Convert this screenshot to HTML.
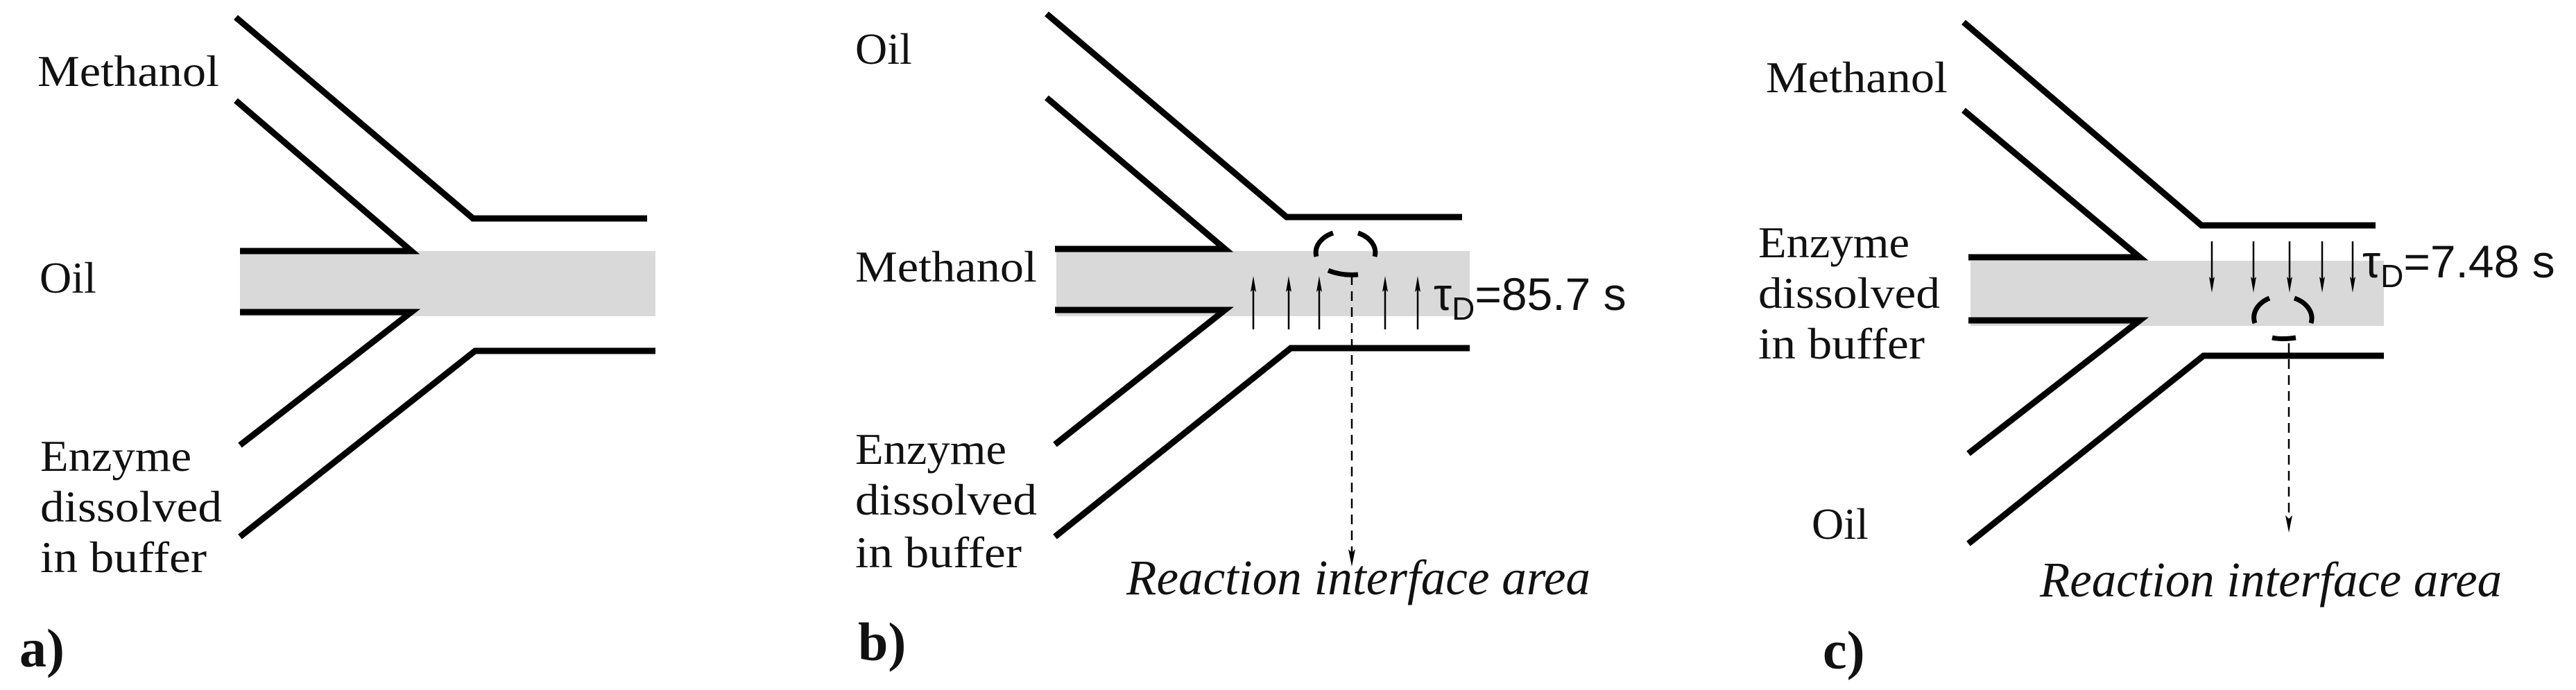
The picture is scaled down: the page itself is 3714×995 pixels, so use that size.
<!DOCTYPE html>
<html><head><meta charset="utf-8"><style>html,body{margin:0;padding:0;background:#fff}svg{display:block}</style></head>
<body>
<svg width="3714" height="995" viewBox="0 0 3714 995" xmlns="http://www.w3.org/2000/svg">
<g fill="#d9d9d9">
<rect x="346" y="362" width="599" height="94"/>
<rect x="1523" y="362" width="596" height="94"/>
<rect x="2841" y="376" width="596" height="94"/>
</g>
<g fill="none" stroke="#000" stroke-width="9" stroke-linejoin="miter">
<polyline points="340,25 682,315 933,315"/>
<polyline points="340,145 593,362 346,362"/>
<polyline points="346,450 593,450 346,642"/>
<polyline points="346,774 685,506 945,506"/>
<polyline points="1509,20 1855,313 2108,313"/>
<polyline points="1509,141 1766,359 1521,359"/>
<polyline points="1521,447 1766,447 1521,641"/>
<polyline points="1521,774 1861,502 2119,502"/>
<polyline points="2831,32 3174,325 3425,325"/>
<polyline points="2831,159 3085,371 2838,371"/>
<polyline points="2838,462 3085,462 2838,654"/>
<polyline points="2838,784 3177,513 3437,513"/>
</g>
<g stroke="#000" stroke-width="2.5" fill="none">
<line x1="1807" y1="475" x2="1807" y2="410"/>
<line x1="1858" y1="475" x2="1858" y2="410"/>
<line x1="1902" y1="475" x2="1902" y2="410"/>
<line x1="1997" y1="475" x2="1997" y2="410"/>
<line x1="2044" y1="475" x2="2044" y2="410"/>
<line x1="3189" y1="348" x2="3189" y2="410"/>
<line x1="3249" y1="348" x2="3249" y2="410"/>
<line x1="3301" y1="348" x2="3301" y2="410"/>
<line x1="3348" y1="348" x2="3348" y2="410"/>
<line x1="3392" y1="348" x2="3392" y2="410"/>
<line x1="1949" y1="397" x2="1949" y2="805" stroke-dasharray="14,9"/>
<line x1="3300" y1="495" x2="3300" y2="756" stroke-dasharray="14,9"/>
</g>
<g fill="#000">
<polygon points="1807,398 1811,421 1807,417 1803,421"/>
<polygon points="1858,398 1862,421 1858,417 1854,421"/>
<polygon points="1902,398 1906,421 1902,417 1898,421"/>
<polygon points="1997,398 2001,421 1997,417 1993,421"/>
<polygon points="2044,398 2048,421 2044,417 2040,421"/>
<polygon points="3189,422 3193,399 3189,403 3185,399"/>
<polygon points="3249,422 3253,399 3249,403 3245,399"/>
<polygon points="3301,422 3305,399 3301,403 3297,399"/>
<polygon points="3348,422 3352,399 3348,403 3344,399"/>
<polygon points="3392,422 3396,399 3392,403 3388,399"/>
<polygon points="1949,817 1954,792 1949,797 1944,792"/>
<polygon points="3300,768 3305,743 3300,748 3295,743"/>
</g>
<g fill="none" stroke="#000" stroke-width="7">
<path d="M1898,370 A43,31 0 0 1 1922,336"/>
<path d="M1958,336 A43,31 0 0 1 1982,370"/>
<path d="M1915,390 Q1935,398 1958,396"/>
<path d="M3251,466 A43,32 0 0 1 3272,430"/>
<path d="M3308,430 A43,32 0 0 1 3332,466"/>
<path d="M3276,487 Q3290,490 3310,487"/>
</g>
<g font-family="Liberation Serif, serif" font-size="64" fill="#111">
<text x="54" y="124" textLength="262" lengthAdjust="spacingAndGlyphs">Methanol</text>
<text x="57" y="422">Oil</text>
<text x="58" y="679" textLength="218" lengthAdjust="spacingAndGlyphs">Enzyme</text>
<text x="58" y="752" textLength="262" lengthAdjust="spacingAndGlyphs">dissolved</text>
<text x="58" y="825" textLength="240" lengthAdjust="spacingAndGlyphs">in buffer</text>
<text x="28" y="961" font-weight="bold" font-size="78">a)</text>

<text x="1233" y="92">Oil</text>
<text x="1233" y="406" textLength="262" lengthAdjust="spacingAndGlyphs">Methanol</text>
<text x="1233" y="669" textLength="218" lengthAdjust="spacingAndGlyphs">Enzyme</text>
<text x="1233" y="742" textLength="262" lengthAdjust="spacingAndGlyphs">dissolved</text>
<text x="1233" y="818" textLength="240" lengthAdjust="spacingAndGlyphs">in buffer</text>
<text x="1237" y="952" font-weight="bold" font-size="78">b)</text>
<text x="1624" y="857" font-style="italic" font-size="72" textLength="669" lengthAdjust="spacingAndGlyphs">Reaction interface area</text>

<text x="2546" y="133" textLength="262" lengthAdjust="spacingAndGlyphs">Methanol</text>
<text x="2535" y="371" textLength="218" lengthAdjust="spacingAndGlyphs">Enzyme</text>
<text x="2535" y="444" textLength="262" lengthAdjust="spacingAndGlyphs">dissolved</text>
<text x="2535" y="517" textLength="240" lengthAdjust="spacingAndGlyphs">in buffer</text>
<text x="2612" y="777">Oil</text>
<text x="2628" y="964" font-weight="bold" font-size="78">c)</text>
<text x="2941" y="860" font-style="italic" font-size="72" textLength="666" lengthAdjust="spacingAndGlyphs">Reaction interface area</text>
</g>
<g font-family="Liberation Sans, sans-serif" font-size="66" fill="#111">
<text x="2067" y="447">τ<tspan font-size="46" dy="14">D</tspan><tspan dy="-14">=85.7 s</tspan></text>
<text x="3406" y="400">τ<tspan font-size="46" dy="14">D</tspan><tspan dy="-14">=7.48 s</tspan></text>
</g>
</svg>
</body></html>
